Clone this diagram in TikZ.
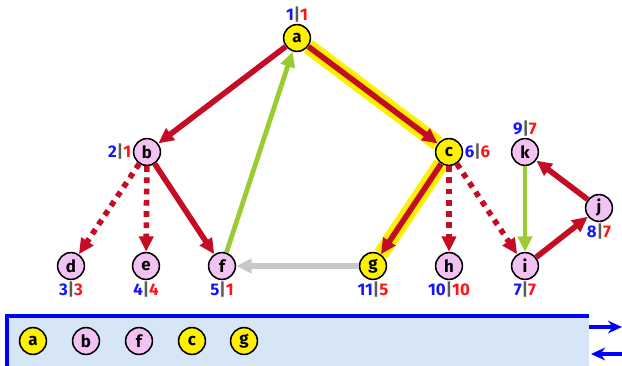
\documentclass[tikz,border=0pt]{standalone}
\usepackage{fontspec}
\setmainfont{Fira Sans}
\usetikzlibrary{arrows.meta}
\definecolor{edgered}{RGB}{196,12,36}
\definecolor{nodeyellow}{RGB}{255,240,0}
\definecolor{nodepink}{RGB}{242,194,242}
\definecolor{backgreen}{RGB}{154,204,50}
\definecolor{crossgray}{RGB}{200,200,200}
\definecolor{stackfill}{RGB}{214,230,246}
\definecolor{numblue}{RGB}{20,20,255}
\definecolor{numred}{RGB}{255,20,20}
\definecolor{bargray}{RGB}{90,90,90}
\newcommand{\dfnum}[2]{\textcolor{numblue}{#1}\textcolor{bargray}{|}\textcolor{numred}{#2}}

\begin{document}
\begin{tikzpicture}[
    x=0.025cm, y=-0.025cm,
    vertex/.style={
        draw,
        circle,
        line width=1.1pt,
        minimum size=0.67cm,
        inner sep=0pt,
        fill=nodepink,
        font=\large\bfseries
    },
    onstack/.style={
        vertex,
        fill=nodeyellow
    },
    num/.style={
        font=\large\bfseries,
        inner sep=1pt
    },
    tree/.style={
        -{Triangle[length=11pt,width=10pt]},
        line width=4pt,
        draw=edgered
    },
    fwd/.style={
        tree,
        dash pattern=on 4pt off 4pt
    },
    back/.style={
        -{Triangle[length=11pt,width=10pt]},
        line width=3.4pt,
        draw=backgreen
    },
    cross/.style={
        -{Triangle[length=11pt,width=10pt]},
        line width=3.6pt,
        draw=crossgray
    },
    hilite/.style={
        line width=11pt,
        draw=nodeyellow
    },
    push/.style={
        -{Stealth[length=10pt,width=9pt]},
        line width=2.4pt,
        draw=blue
    }
]
\useasboundingbox (0,0) rectangle (622,366);

% Stack
\fill[stackfill] (7,316) rectangle (589,370);
\draw[blue, line width=2.4pt] (7,370) -- (7,316) -- (589,316);
\coordinate (pushA) at (589,327);
\coordinate (pushB) at (622,327);
\coordinate (popA) at (622,354);
\coordinate (popB) at (591,354);
\draw[push] (pushA) -- (pushB);
\draw[push] (popA) -- (popB);

\node[onstack] (sa) at (33,341) {a};
\node[vertex] (sb) at (86,341) {b};
\node[vertex] (sf) at (139,341) {f};
\node[onstack] (sc) at (192,341) {c};
\node[onstack] (sg) at (244,341) {g};

% Top
\node[onstack, label={[num]above:\dfnum{1}{1}}] (a) at (297,38) {a};

% Level 2
\node[vertex, label={[num]left:\dfnum{2}{1}}] (b) at (147,152) {b};
\node[onstack, label={[num]right:\dfnum{6}{6}}] (c) at (449,152) {c};
\node[vertex, label={[num]above:\dfnum{9}{7}}] (k) at (525,152) {k};
\node[vertex, label={[num]below:\dfnum{8}{7}}] (j) at (599,208) {j};

% Level 3
\node[vertex, label={[num]below:\dfnum{3}{3}}] (d) at (71,266) {d};
\node[vertex, label={[num]below:\dfnum{4}{4}}] (e) at (146,266) {e};
\node[vertex, label={[num]below:\dfnum{5}{1}}] (f) at (222,266) {f};
\node[onstack, label={[num]below:\dfnum{11}{5}}] (g) at (373,266) {g};
\node[vertex, label={[num]below:\dfnum{10}{10}}] (h) at (449,266) {h};
\node[vertex, label={[num]below:\dfnum{7}{7}}] (i) at (525,266) {i};

% Path on the stack
\draw[hilite] (a) -- (c);
\draw[hilite] (c) -- (g);

% Edges
\draw[tree] (a) -- (b);
\draw[tree] (a) -- (c);
\draw[tree] (b) -- (f);
\draw[fwd] (b) -- (d);
\draw[fwd] (b) -- (e);
\draw[back] (f) -- (a);
\draw[tree] (c) -- (g);
\draw[cross] (g) -- (f);
\draw[fwd] (c) -- (h);
\draw[fwd] (c) -- (i);
\draw[tree] (i) -- (j);
\draw[tree] (j) -- (k);
\draw[back] (k) -- (i);

\end{tikzpicture}
\end{document}
